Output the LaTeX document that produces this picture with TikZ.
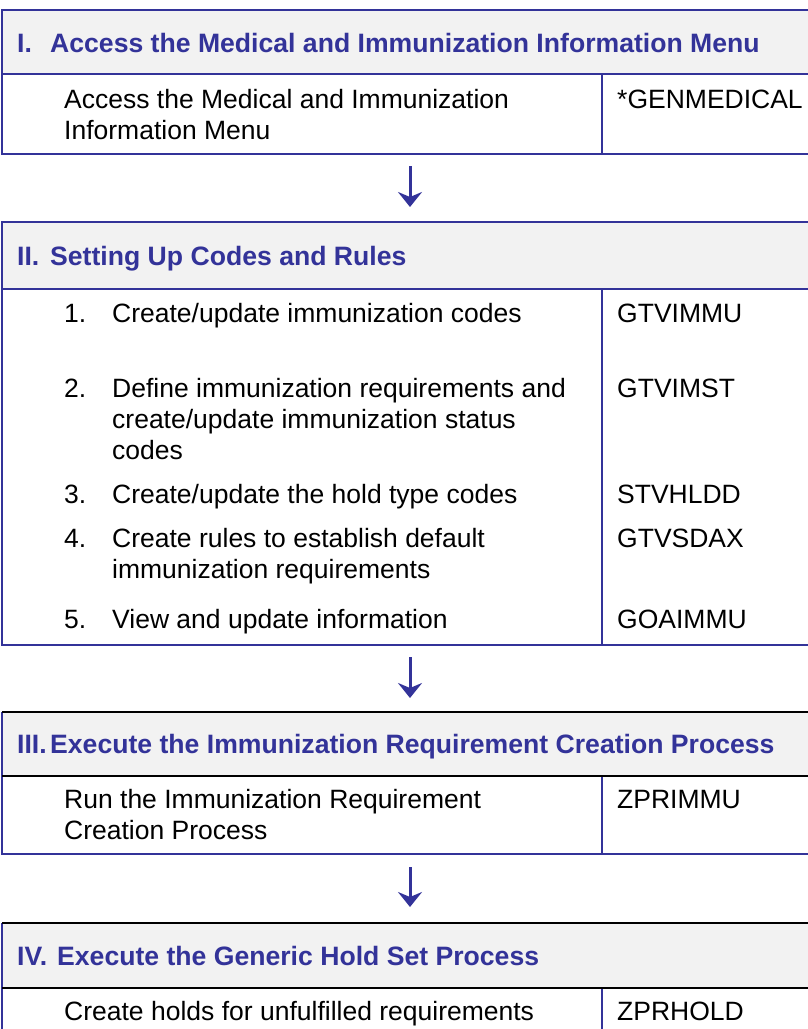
\documentclass[tikz,border=0pt]{standalone}
\usepackage{fontspec}
\setmainfont{Liberation Sans}
\usetikzlibrary{arrows.meta}
\definecolor{navy}{RGB}{51,51,153}
\definecolor{hdrgray}{RGB}{242,242,242}
\begin{document}
\begin{tikzpicture}[x=1pt,y=-1pt,
  hdr/.style={anchor=base west, inner sep=0pt, font=\fontsize{26.6}{31}\selectfont\bfseries, text=navy},
  body/.style={anchor=base west, inner sep=0pt, font=\fontsize{26.5}{31}\selectfont, text=black},
  bline/.style={draw=navy, line width=2.2pt},
  kline/.style={draw=black, line width=2.2pt},
  flow/.style={navy, line width=3pt, -{Stealth[length=15pt,width=24pt,inset=5pt]}}]
\useasboundingbox (0,0) rectangle (808,1029);
\clip (0,0) rectangle (808,1029);

% ---------- Section I ----------
\fill[hdrgray] (2,10) rectangle (815,74);
\draw[bline] (815,10) -- (2,10) -- (2,154) -- (815,154);
\draw[bline] (2,74) -- (815,74);
\draw[bline] (602,74) -- (602,154);
\node[hdr] (h1n) at (17,52) {I.};
\node[hdr] (h1t) at (50,52) {Access the Medical and Immunization Information Menu};
\node[body] (b1a) at (64,108) {Access the Medical and Immunization};
\node[body] (b1b) at (64,139) {Information Menu};
\node[body] (c1) at (617,108) {*GENMEDICAL};

\coordinate (a1s) at (410,166);
\coordinate (a1e) at (410,207);
\draw[flow] (a1s) -- (a1e);

% ---------- Section II ----------
\fill[hdrgray] (2,222) rectangle (815,289);
\draw[bline] (815,222) -- (2,222) -- (2,645) -- (815,645);
\draw[bline] (2,289) -- (815,289);
\draw[bline] (602,289) -- (602,645);
\node[hdr] (h2n) at (17,265) {II.};
\node[hdr] (h2t) at (50,265) {Setting Up Codes and Rules};

\node[body] (n1) at (64,322) {1.};
\node[body] (t1) at (112,322) {Create/update immunization codes};
\node[body] (c21) at (617,322) {GTVIMMU};

\node[body] (n2) at (64,397) {2.};
\node[body] (t2a) at (112,397) {Define immunization requirements and};
\node[body] (t2b) at (112,428) {create/update immunization status};
\node[body] (t2c) at (112,459) {codes};
\node[body] (c22) at (617,397) {GTVIMST};

\node[body] (n3) at (64,503) {3.};
\node[body] (t3) at (112,503) {Create/update the hold type codes};
\node[body] (c23) at (617,503) {STVHLDD};

\node[body] (n4) at (64,547) {4.};
\node[body] (t4a) at (112,547) {Create rules to establish default};
\node[body] (t4b) at (112,578) {immunization requirements};
\node[body] (c24) at (617,547) {GTVSDAX};

\node[body] (n5) at (64,628) {5.};
\node[body] (t5) at (112,628) {View and update information};
\node[body] (c25) at (617,628) {GOAIMMU};

\coordinate (a2s) at (410,657);
\coordinate (a2e) at (410,698);
\draw[flow] (a2s) -- (a2e);

% ---------- Section III ----------
\fill[hdrgray] (2,712) rectangle (815,776);
\draw[bline] (2,712) -- (2,854) -- (815,854);
\draw[kline] (2,712) -- (815,712);
\draw[kline] (2,776) -- (815,776);
\draw[bline] (602,777) -- (602,854);
\node[hdr] (h3n) at (17,753) {III.};
\node[hdr] (h3t) at (50,753) {Execute the Immunization Requirement Creation Process};
\node[body] (b3a) at (64,808) {Run the Immunization Requirement};
\node[body] (b3b) at (64,839) {Creation Process};
\node[body] (c3) at (617,808) {ZPRIMMU};

\coordinate (a3s) at (410,867);
\coordinate (a3e) at (410,907);
\draw[flow] (a3s) -- (a3e);

% ---------- Section IV ----------
\fill[hdrgray] (2,923) rectangle (815,988);
\draw[bline] (2,923) -- (2,1035);
\draw[kline] (2,923) -- (815,923);
\draw[kline] (2,988) -- (815,988);
\draw[bline] (602,989) -- (602,1035);
\node[hdr] (h4n) at (17,965) {IV.};
\node[hdr] (h4t) at (57,965) {Execute the Generic Hold Set Process};
\node[body] (b4) at (64,1020) {Create holds for unfulfilled requirements};
\node[body] (c4) at (617,1020) {ZPRHOLD};
\end{tikzpicture}
\end{document}
